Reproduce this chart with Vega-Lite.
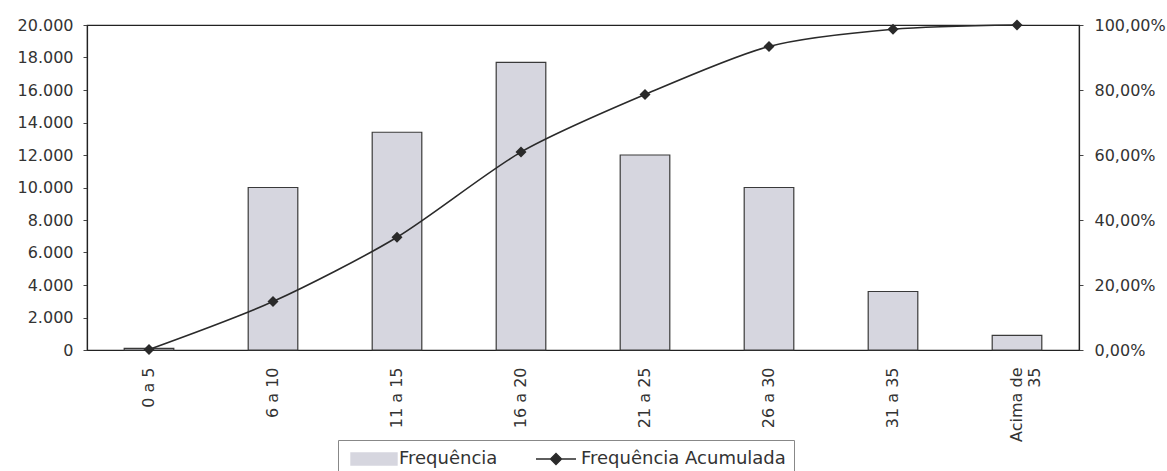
{
  "$schema": "https://vega.github.io/schema/vega-lite/v6.json",
  "width": 992,
  "height": 325,
  "autosize": "none",
  "padding": {"left": 87, "top": 25, "right": 88, "bottom": 121},
  "background": "white",
  "config": {
    "font": "DejaVu Sans",
    "view": {"stroke": "#222", "strokeWidth": 1.2},
    "axis": {
      "labelFont": "DejaVu Sans",
      "labelFontSize": 16,
      "labelColor": "#333",
      "domainColor": "#222",
      "domainWidth": 1.2,
      "tickColor": "#444",
      "grid": false,
      "title": null
    },
    "legend": {
      "orient": "none",
      "legendX": 251,
      "legendY": 415,
      "direction": "horizontal",
      "strokeColor": "#888",
      "padding": 8,
      "symbolSize": 400,
      "symbolOffset": 17,
      "symbolType": "M-2.3,-0.6L2.3,-0.6L2.3,0.6L-2.3,0.6Z",
      "symbolStrokeColor": "#222",
      "symbolStrokeWidth": 1.4,
      "labelFont": "DejaVu Sans",
      "labelFontSize": 18,
      "labelColor": "#333",
      "labelLimit": 400,
      "labelOffset": 14,
      "columnPadding": 30
    }
  },
  "data": {
    "values": [
      {"faixa": "0 a 5", "freq": 100, "acum": 0.0015},
      {"faixa": "6 a 10", "freq": 10000, "acum": 0.149},
      {"faixa": "11 a 15", "freq": 13400, "acum": 0.347},
      {"faixa": "16 a 20", "freq": 17700, "acum": 0.609},
      {"faixa": "21 a 25", "freq": 12000, "acum": 0.786},
      {"faixa": "26 a 30", "freq": 10000, "acum": 0.934},
      {"faixa": "31 a 35", "freq": 3600, "acum": 0.987},
      {"faixa": "Acima de 35", "freq": 900, "acum": 1.0}
    ]
  },
  "encoding": {
    "x": {
      "field": "faixa",
      "type": "nominal",
      "sort": null,
      "scale": {"paddingInner": 0.6, "paddingOuter": 0.3},
      "axis": {
        "labelAngle": 270,
        "labelPadding": 17,
        "ticks": false,
        "tickSize": 0,
        "labelLineHeight": 18,
        "labelExpr": "datum.value == 'Acima de 35' ? ['Acima de', '35'] : datum.value"
      }
    }
  },
  "layer": [
    {
      "mark": {"type": "bar", "stroke": "#3a3a3a", "strokeWidth": 1.2},
      "encoding": {
        "y": {
          "field": "freq",
          "type": "quantitative",
          "scale": {"domain": [0, 20000], "nice": false},
          "axis": {
            "orient": "left",
            "values": [0, 2000, 4000, 6000, 8000, 10000, 12000, 14000, 16000, 18000, 20000],
            "tickSize": 4,
            "labelPadding": 10,
            "labelExpr": "replace(format(datum.value, ','), ',', '.')"
          }
        },
        "color": {
          "datum": "Frequência",
          "scale": {"domain": ["Frequência", "Frequência Acumulada"], "range": ["#d6d6df", "#2a2a2a"]},
          "legend": {
            "title": null,
            "encode": {
              "symbols": {
                "update": {
                  "shape": {"signal": "indexof(datum.value, 'Acumulada') < 0 ? 'M-2.3,-0.6L2.3,-0.6L2.3,0.6L-2.3,0.6Z' : 'M-2,0L2,0M0,-0.55L0.55,0L0,0.55L-0.55,0Z'"},
                  "fill": {"signal": "indexof(datum.value, 'Acumulada') < 0 ? '#d6d6df' : '#333'"},
                  "stroke": {"signal": "'#222'"},
                  "strokeWidth": {"value": 1.4},
                  "strokeOpacity": {"value": 1}
                }
              }
            }
          }
        }
      }
    },
    {
      "mark": {
        "type": "line",
        "interpolate": "cardinal",
        "tension": 0.2,
        "strokeWidth": 1.6,
        "point": {"shape": "diamond", "size": 121, "filled": true, "opacity": 1}
      },
      "encoding": {
        "y": {
          "field": "acum",
          "type": "quantitative",
          "scale": {"domain": [0, 1], "nice": false},
          "axis": {
            "orient": "right",
            "values": [0, 0.2, 0.4, 0.6, 0.8, 1],
            "tickSize": 4,
            "labelPadding": 11,
            "labelExpr": "replace(format(datum.value, '.2%'), '.', ',')"
          }
        },
        "color": {
          "datum": "Frequência Acumulada",
          "legend": {
            "title": null,
            "encode": {
              "symbols": {
                "update": {
                  "shape": {"signal": "indexof(datum.value, 'Acumulada') < 0 ? 'M-2.3,-0.6L2.3,-0.6L2.3,0.6L-2.3,0.6Z' : 'M-2,0L2,0M0,-0.55L0.55,0L0,0.55L-0.55,0Z'"},
                  "fill": {"signal": "indexof(datum.value, 'Acumulada') < 0 ? '#d6d6df' : '#333'"},
                  "stroke": {"signal": "'#222'"},
                  "strokeWidth": {"value": 1.4},
                  "strokeOpacity": {"value": 1}
                }
              }
            }
          }
        }
      }
    }
  ],
  "resolve": {"scale": {"y": "independent"}}
}
